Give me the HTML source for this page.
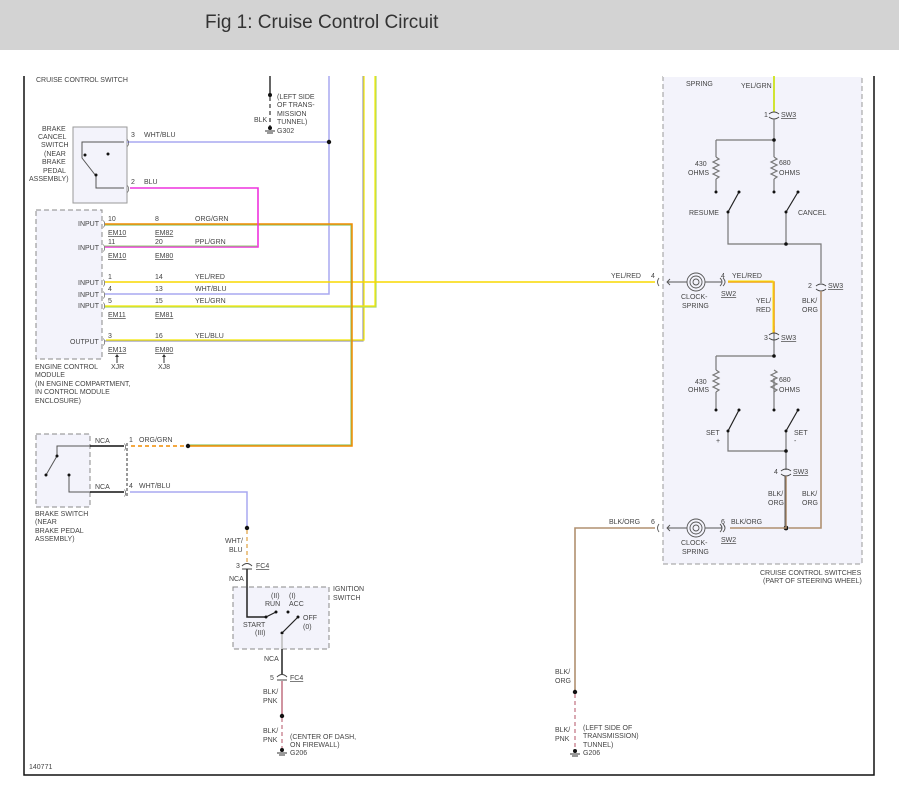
<!DOCTYPE html>
<html><head><meta charset="utf-8"><style>
html,body{margin:0;padding:0;background:#fff;}
svg{display:block;}
text{font-family:"Liberation Sans",sans-serif;font-size:7px;fill:#444;}
.t{font-size:19px;fill:#333;}
</style></head><body>
<svg width="899" height="793" viewBox="0 0 899 793" xmlns="http://www.w3.org/2000/svg">
<rect x="0" y="0" width="899" height="50" fill="#d3d3d3"/>
<text class="t" x="205" y="28">Fig 1: Cruise Control Circuit</text>
<!-- frame -->
<path d="M24 76 V775 H874 V76" fill="none" stroke="#111" stroke-width="1.5"/>

<!-- boxes -->
<rect x="73" y="127" width="54" height="76" fill="#f3f3fb" stroke="#999" stroke-width="1"/>
<rect x="36" y="210" width="66" height="149" fill="#f3f3fb" stroke="#888" stroke-dasharray="5,3"/>
<rect x="36" y="434" width="54" height="73" fill="#f3f3fb" stroke="#888" stroke-dasharray="5,3"/>
<rect x="233" y="587" width="96" height="62" fill="#f3f3fb" stroke="#888" stroke-dasharray="5,3"/>
<path d="M663 76 V564 H862 V76" fill="#f3f3fb" stroke="#999" stroke-dasharray="5,3"/>
<rect x="663" y="72" width="199" height="5" fill="#fff"/>

<!-- top wires -->
<path d="M270 76 V95" stroke="#333" stroke-width="1.5"/>
<path d="M270 97 V128" stroke="#333" stroke-width="1.2" stroke-dasharray="4,3"/>
<circle cx="270" cy="95" r="2" fill="#111"/><circle cx="270" cy="128" r="2" fill="#111"/>
<path d="M265 131 h10 M267 133 h6" stroke="#333"/>
<text x="277" y="99">(LEFT SIDE</text><text x="277" y="107">OF TRANS-</text><text x="277" y="116">MISSION</text><text x="277" y="124">TUNNEL)</text>
<text x="254" y="122">BLK</text><text x="277" y="133">G302</text>
<text x="36" y="82">CRUISE CONTROL SWITCH</text>

<!-- lavender WHT/BLU -->
<path d="M329 76 V294 H105 M127 142 H329" fill="none" stroke="#a8a8f0" stroke-width="1.5"/>
<circle cx="329" cy="142" r="2.2" fill="#111"/>
<!-- YEL/BLU -->
<path d="M105 341 H363 V76" fill="none" stroke="#9999bb" stroke-width="1.2"/>
<path d="M106 340 H364 V76" fill="none" stroke="#f4e800" stroke-width="1.2"/>
<!-- YEL/GRN -->
<path d="M105 307 H376 V76" fill="none" stroke="#a8d870" stroke-width="1.2"/>
<path d="M105 306 H375 V76" fill="none" stroke="#f4e800" stroke-width="1.2"/>
<!-- YEL/RED -->
<path d="M105 282 H655" stroke="#f8d800" stroke-width="1.6"/>
<!-- ORG/GRN -->
<path d="M105 225 H351 V445 H190" fill="none" stroke="#90c870" stroke-width="1.2"/>
<path d="M105 224 H352 V446 H190" fill="none" stroke="#f08c00" stroke-width="1.5"/>
<path d="M131 446 H188" stroke="#f08c00" stroke-width="1.5" stroke-dasharray="4,3"/>
<circle cx="188" cy="446" r="2.2" fill="#111"/>
<!-- pink PPL/GRN -->
<path d="M130 188 H258 V247 H105" fill="none" stroke="#ee33dd" stroke-width="1.6"/>
<path d="M105 246 H257" stroke="#90c870" stroke-width="1"/>

<!-- brake cancel switch -->
<path d="M124 142 H82 V158 L96 176 V188 H124" fill="none" stroke="#555" stroke-width="1"/>
<circle cx="85" cy="155" r="1.5" fill="#111"/><circle cx="108" cy="154" r="1.5" fill="#111"/><circle cx="96" cy="175" r="1.5" fill="#111"/>
<text x="127" y="145">)</text><text x="127" y="191">)</text>
<text x="131" y="137">3</text><text x="144" y="137">WHT/BLU</text>
<text x="131" y="184">2</text><text x="144" y="184">BLU</text>
<text x="42" y="131">BRAKE</text><text x="38" y="139">CANCEL</text><text x="41" y="147">SWITCH</text><text x="44" y="156">(NEAR</text><text x="42" y="164">BRAKE</text><text x="43" y="173">PEDAL</text><text x="29" y="181">ASSEMBLY)</text>

<!-- ECM labels -->
<text x="78" y="226">INPUT</text><text x="78" y="250">INPUT</text><text x="78" y="285">INPUT</text><text x="78" y="297">INPUT</text><text x="78" y="308">INPUT</text><text x="70" y="344">OUTPUT</text>
<text x="103" y="226">)</text><text x="103" y="250">)</text><text x="103" y="285">)</text><text x="103" y="297">)</text><text x="103" y="308">)</text><text x="103" y="344">)</text>
<text x="108" y="221">10</text><text x="155" y="221">8</text><text x="195" y="221">ORG/GRN</text>
<text x="108" y="235" text-decoration="underline">EM10</text><text x="155" y="235" text-decoration="underline">EM82</text>
<text x="108" y="244">11</text><text x="155" y="244">20</text><text x="195" y="244">PPL/GRN</text>
<text x="108" y="258" text-decoration="underline">EM10</text><text x="155" y="258" text-decoration="underline">EM80</text>
<text x="108" y="279">1</text><text x="155" y="279">14</text><text x="195" y="279">YEL/RED</text>
<text x="108" y="291">4</text><text x="155" y="291">13</text><text x="195" y="291">WHT/BLU</text>
<text x="108" y="303">5</text><text x="155" y="303">15</text><text x="195" y="303">YEL/GRN</text>
<text x="108" y="317" text-decoration="underline">EM11</text><text x="155" y="317" text-decoration="underline">EM81</text>
<text x="108" y="338">3</text><text x="155" y="338">16</text><text x="195" y="338">YEL/BLU</text>
<text x="108" y="352" text-decoration="underline">EM13</text><text x="155" y="352" text-decoration="underline">EM80</text>
<path d="M117 363 V355 M164 363 V355" stroke="#333"/><path d="M115 357 l2 -3 l2 3z M162 357 l2 -3 l2 3z" fill="#333"/>
<text x="111" y="369">XJR</text><text x="158" y="369">XJ8</text>
<text x="35" y="369">ENGINE CONTROL</text><text x="35" y="377">MODULE</text><text x="35" y="386">(IN ENGINE COMPARTMENT,</text><text x="35" y="394">IN CONTROL MODULE</text><text x="35" y="403">ENCLOSURE)</text>

<!-- brake switch -->
<path d="M124 446 H57 V456 L46 475 M69 476 V492 H124" fill="none" stroke="#555" stroke-width="1"/>
<path d="M90 446 H124 M90 492 H124" stroke="#111" stroke-width="1.5"/>
<circle cx="57" cy="456" r="1.5" fill="#111"/><circle cx="46" cy="475" r="1.5" fill="#111"/><circle cx="69" cy="475" r="1.5" fill="#111"/>
<path d="M127 443 V496" stroke="#333" stroke-dasharray="3,2"/>
<text x="124" y="449">)</text><text x="124" y="495">)</text>
<text x="95" y="443">NCA</text><text x="95" y="489">NCA</text>
<text x="129" y="442">1</text><text x="139" y="442">ORG/GRN</text>
<text x="129" y="488">4</text><text x="139" y="488">WHT/BLU</text>
<text x="35" y="516">BRAKE SWITCH</text><text x="35" y="524">(NEAR</text><text x="35" y="533">BRAKE PEDAL</text><text x="35" y="541">ASSEMBLY)</text>

<path d="M130 492 H247 V528" fill="none" stroke="#a8a8f0" stroke-width="1.5"/>
<circle cx="247" cy="528" r="2.2" fill="#111"/>
<path d="M247 530 V563" stroke="#e0a040" stroke-width="1.2" stroke-dasharray="4,3"/>
<text x="225" y="543">WHT/</text><text x="229" y="552">BLU</text>
<path d="M242 566 q5 -5 10 0 M242 569 h10" fill="none" stroke="#444"/>
<text x="236" y="568">3</text><text x="256" y="568" text-decoration="underline">FC4</text>
<path d="M247 569 V617 L266 617" fill="none" stroke="#222" stroke-width="1.5"/>
<text x="229" y="581">NCA</text>
<path d="M266 617 L276 612" stroke="#222" stroke-width="1.2"/>
<circle cx="266" cy="617" r="1.5" fill="#111"/><circle cx="276" cy="612" r="1.5" fill="#111"/><circle cx="288" cy="612" r="1.5" fill="#111"/>
<path d="M282 633 L298 617" stroke="#222" stroke-width="1.2"/>
<circle cx="282" cy="633" r="1.5" fill="#111"/><circle cx="298" cy="617" r="1.5" fill="#111"/>
<text x="271" y="598">(II)</text><text x="265" y="606">RUN</text><text x="289" y="598">(I)</text><text x="289" y="606">ACC</text>
<text x="243" y="627">START</text><text x="255" y="635">(III)</text><text x="303" y="620">OFF</text><text x="303" y="629">(0)</text>
<text x="333" y="591">IGNITION</text><text x="333" y="600">SWITCH</text>
<path d="M282 634 V649" stroke="#bbb" stroke-width="1.5"/>
<path d="M282 649 V674" stroke="#222" stroke-width="1.5"/>
<text x="264" y="661">NCA</text>
<path d="M277 677 q5 -5 10 0 M277 680 h10" fill="none" stroke="#444"/>
<text x="270" y="680">5</text><text x="290" y="680" text-decoration="underline">FC4</text>
<path d="M282 681 V716" stroke="#c07080" stroke-width="1.5"/>
<circle cx="282" cy="716" r="2.2" fill="#111"/>
<path d="M282 718 V749" stroke="#c07080" stroke-width="1.2" stroke-dasharray="4,3"/>
<circle cx="282" cy="750" r="2" fill="#111"/><path d="M277 753 h10 M279 755 h6" stroke="#333"/>
<text x="263" y="694">BLK/</text><text x="263" y="703">PNK</text>
<text x="263" y="733">BLK/</text><text x="263" y="742">PNK</text>
<text x="290" y="739">(CENTER OF DASH,</text><text x="290" y="747">ON FIREWALL)</text><text x="290" y="755">G206</text>
<text x="29" y="769">140771</text>

<!-- right: steering switches -->
<text x="686" y="86">SPRING</text><text x="741" y="88">YEL/GRN</text>
<path d="M774 76 V112" stroke="#c8e000" stroke-width="1.6"/>
<path d="M769 114 q5 -4 10 0 M769 117 q5 4 10 0" fill="none" stroke="#444"/>
<text x="764" y="117">1</text><text x="781" y="117" text-decoration="underline">SW3</text>
<g fill="none" stroke="#777" stroke-width="1.2">
<path d="M774 119 V157 M774 179 V192 M716 140 H774 M716 140 V157 M716 179 V192"/>
<path d="M728 212 V244 H821 V283 M786 212 V244"/>
<path d="M774 326 V356 M774 378 V410 M716 356 H774 M716 356 V370 M716 392 V410"/>
<path d="M728 431 V451 H786 V470 M786 431 V451"/>
<path d="M774 157 l3 2 l-6 3 l6 3 l-6 3 l6 3 l-6 3 l6 3 l-3 2"/>
<path d="M716 157 l3 2 l-6 3 l6 3 l-6 3 l6 3 l-6 3 l6 3 l-3 2"/>
<path d="M774 370 l3 2 l-6 3 l6 3 l-6 3 l6 3 l-6 3 l6 3 l-3 2"/>
<path d="M716 370 l3 2 l-6 3 l6 3 l-6 3 l6 3 l-6 3 l6 3 l-3 2"/>
</g>
<g stroke="#222" stroke-width="1.2"><path d="M728 212 L739 192 M786 212 L798 192 M728 431 L739 410 M786 431 L798 410"/></g>
<g fill="#111">
<circle cx="774" cy="140" r="1.8"/><circle cx="716" cy="192" r="1.5"/><circle cx="774" cy="192" r="1.5"/><circle cx="728" cy="212" r="1.5"/><circle cx="739" cy="192" r="1.5"/><circle cx="786" cy="212" r="1.5"/><circle cx="798" cy="192" r="1.5"/><circle cx="786" cy="244" r="1.8"/>
<circle cx="774" cy="356" r="1.8"/><circle cx="716" cy="410" r="1.5"/><circle cx="774" cy="410" r="1.5"/><circle cx="728" cy="431" r="1.5"/><circle cx="739" cy="410" r="1.5"/><circle cx="786" cy="431" r="1.5"/><circle cx="798" cy="410" r="1.5"/><circle cx="786" cy="451" r="1.8"/><circle cx="786" cy="528" r="2.4"/>
</g>
<text x="695" y="166">430</text><text x="688" y="175">OHMS</text><text x="779" y="165">680</text><text x="779" y="175">OHMS</text>
<text x="689" y="215">RESUME</text><text x="798" y="215">CANCEL</text>
<text x="695" y="384">430</text><text x="688" y="392">OHMS</text><text x="779" y="382">680</text><text x="779" y="392">OHMS</text>
<text x="706" y="435">SET</text><text x="716" y="443">+</text><text x="794" y="435">SET</text><text x="794" y="443">-</text>
<!-- SW3 pin 2 -->
<path d="M816 286 q5 -4 10 0 M816 289 q5 4 10 0" fill="none" stroke="#444"/>
<text x="808" y="288">2</text><text x="828" y="288" text-decoration="underline">SW3</text>
<path d="M821 291 V528 H789" fill="none" stroke="#b09070" stroke-width="1.6"/>
<text x="802" y="303">BLK/</text><text x="802" y="312">ORG</text>
<!-- YEL/RED inside -->
<path d="M728 282 H774 V333" fill="none" stroke="#f0a020" stroke-width="1.6"/>
<path d="M728 281 H773 V333" fill="none" stroke="#f8e000" stroke-width="1"/>
<text x="721" y="278">4</text><text x="732" y="278">YEL/RED</text><text x="721" y="296" text-decoration="underline">SW2</text>
<text x="756" y="303">YEL/</text><text x="756" y="312">RED</text>
<path d="M769 335 q5 -4 10 0 M769 338 q5 4 10 0" fill="none" stroke="#444"/>
<text x="764" y="340">3</text><text x="781" y="340" text-decoration="underline">SW3</text>
<path d="M781 471 q5 -4 10 0 M781 474 q5 4 10 0" fill="none" stroke="#444"/>
<text x="774" y="474">4</text><text x="793" y="474" text-decoration="underline">SW3</text>
<path d="M786 476 V528 H730" fill="none" stroke="#b09070" stroke-width="1.6"/>
<path d="M785 476 V527" stroke="#333" stroke-width="0.8"/>
<text x="768" y="496">BLK/</text><text x="768" y="505">ORG</text><text x="802" y="496">BLK/</text><text x="802" y="505">ORG</text>
<!-- clocksprings -->
<g fill="none" stroke="#555" stroke-width="0.9">
<circle cx="696" cy="282" r="9"/><circle cx="696" cy="282" r="6"/><circle cx="696" cy="282" r="3"/>
<circle cx="696" cy="528" r="9"/><circle cx="696" cy="528" r="6"/><circle cx="696" cy="528" r="3"/>
<path d="M667 282 H687 M705 282 H722 M667 528 H687 M705 528 H722"/>
<path d="M670 279 l-3 3 l3 3 M670 525 l-3 3 l3 3"/>
<path d="M720 278 q4 4 0 8 M723 278 q4 4 0 8 M720 524 q4 4 0 8 M723 524 q4 4 0 8"/>
<path d="M659 278 q-3 4 0 8 M659 524 q-3 4 0 8"/>
</g>
<text x="681" y="299">CLOCK-</text><text x="682" y="308">SPRING</text>
<text x="681" y="545">CLOCK-</text><text x="682" y="554">SPRING</text>
<text x="611" y="278">YEL/RED</text><text x="651" y="278">4</text>
<text x="609" y="524">BLK/ORG</text><text x="651" y="524">6</text>
<text x="721" y="524">6</text><text x="731" y="524">BLK/ORG</text><text x="721" y="542" text-decoration="underline">SW2</text>
<text x="760" y="575">CRUISE CONTROL SWITCHES</text><text x="763" y="583">(PART OF STEERING WHEEL)</text>
<!-- left BLK/ORG -->
<path d="M655 528 H575 V692" fill="none" stroke="#b09070" stroke-width="1.6"/>
<circle cx="575" cy="692" r="2.2" fill="#111"/>
<path d="M575 694 V749" stroke="#c07080" stroke-width="1.2" stroke-dasharray="4,3"/>
<circle cx="575" cy="751" r="2" fill="#111"/><path d="M570 754 h10 M572 756 h6" stroke="#333"/>
<text x="555" y="674">BLK/</text><text x="555" y="683">ORG</text>
<text x="555" y="732">BLK/</text><text x="555" y="741">PNK</text>
<text x="583" y="730">(LEFT SIDE OF</text><text x="583" y="738">TRANSMISSION)</text><text x="583" y="747">TUNNEL)</text><text x="583" y="755">G206</text>
</svg>
</body></html>
